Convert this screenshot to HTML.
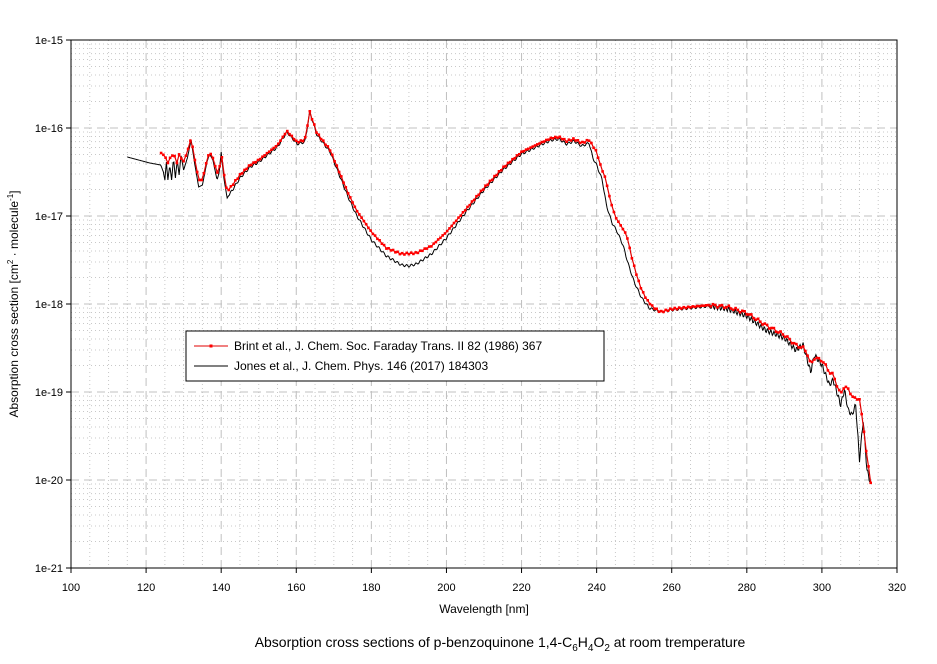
<!DOCTYPE html>
<html><head><meta charset="utf-8"><style>
body{margin:0;background:#fff;width:937px;height:659px;overflow:hidden}
svg{font-family:"Liberation Sans",sans-serif}
</style></head><body>
<svg id="s" width="937" height="659" xmlns="http://www.w3.org/2000/svg"></svg>
<script>
const s=document.getElementById('s');
const X=w=>71+(w-100)*826/220;
let h='';
for(let w=105;w<320;w+=5){if(w%20)h+=`<line x1="${X(w)}" y1="40" x2="${X(w)}" y2="568" stroke="#c8c8c8" stroke-dasharray="1,3"/>`;}
for(let d=0;d<6;d++)for(let k=2;k<10;k++){let y=40+88*(d+1)-88*Math.log10(k);h+=`<line x1="71" y1="${y}" x2="897" y2="${y}" stroke="#c8c8c8" stroke-dasharray="1,3"/>`;}
for(let w=120;w<320;w+=20)h+=`<line x1="${X(w)}" y1="40" x2="${X(w)}" y2="568" stroke="#c0c0c0" stroke-dasharray="8,5"/>`;
for(let d=1;d<6;d++)h+=`<line x1="71" y1="${40+88*d}" x2="897" y2="${40+88*d}" stroke="#c0c0c0" stroke-dasharray="8,5"/>`;
h+=`<rect x="71" y="40" width="826" height="528" fill="none" stroke="#000"/>`;
for(let d=0;d<=6;d++){let y=40+88*d;h+=`<line x1="66" y1="${y}" x2="71" y2="${y}" stroke="#000"/><text x="63" y="${y+4}" font-size="11" text-anchor="end">1e-${15+d}</text>`;}
for(let w=100;w<=320;w+=20){h+=`<line x1="${X(w)}" y1="568" x2="${X(w)}" y2="573" stroke="#000"/><text x="${X(w)}" y="591" font-size="11" text-anchor="middle">${w}</text>`;}
const R=[[124,153],[125,156],[125.8,163],[126.6,156],[127.5,155],[128.2,163],[128.9,153],[129.8,163],[130.9,153],[132,138],[133,160],[134,180],[135,180],[136.2,160],[136.9,152],[137.8,158],[138.9,173],[139.5,170],[140,151],[140.7,173],[141.6,192],[143,185],[145,175],[147.7,165],[150,160],[155,145],[157.5,131],[160.2,142],[162.3,140],[163.6,112],[165.5,133],[169,150],[173.8,193],[176,210],[180,232],[184,248],[188,254],[192,253],[196,246],[200,232],[205,210],[210,188],[215,168],[220,152],[225,143],[228,138],[230,137],[232,141],[234,139],[236,143],[238,140],[240,152],[241,165],[242.5,180],[243.6,200],[245,217],[246.5,226],[248,235],[249.4,258],[250.8,277],[252,290],[253.4,300],[255,307],[257,312],[260,309],[270,305],[275,307],[280,313],[285,325],[290,335],[293,345],[295,348],[296,352],[297,365],[298,358],[300,360],[302,372],[303,375],[305,395],[306,385],[307,390],[309,400],[310,398],[313,484]];
const B=[[115,157],[118,160],[121,163],[123.9,165],[124.6,172],[125,180],[125.4,162],[125.8,180],[126.3,165],[126.8,180],[127.3,158],[127.8,178],[128.3,160],[128.8,175],[129.3,155],[130,170],[131,158],[132,140],[133,165],[134,187],[135,185],[136.2,162],[136.9,154],[137.8,160],[138.9,180],[139.5,172],[140,152],[140.7,178],[141.6,198],[143,190],[145,178],[147.7,167],[150,162],[155,147],[157.5,132],[160.2,144],[162.3,142],[163.6,112],[165.5,135],[169,152],[173.8,197],[176,215],[180,240],[184,256],[188,265],[190,266],[192,264],[196,254],[200,238],[205,213],[210,190],[215,170],[220,154],[225,145],[228,140],[230,139],[232,144],[234,141],[236,146],[238,143],[239,158],[240,165],[241.5,180],[242.6,205],[244,222],[245.5,232],[247,245],[248.5,265],[250,282],[252,298],[254,308],[257,312],[260,310],[270,306],[275,309],[280,316],[285,330],[290,338],[293,350],[295,345],[297,372],[298,355],[300,365],[302,385],[303,380],[305,405],[306,390],[307,410],[308,415],[309,405],[310,460],[311,420],[312,470],[313,484]];
function interp(a,w){for(let i=1;i<a.length;i++)if(w<=a[i][0]){let t=(w-a[i-1][0])/(a[i][0]-a[i-1][0]);return a[i-1][1]+t*(a[i][1]-a[i-1][1]);}return a[a.length-1][1];}
function pts(a,step,n){let p=[];for(let w=a[0][0];w<=a[a.length-1][0]+1e-6;w+=step){let y=interp(a,w);if(w>270)y+=n*Math.sin(w*7.3)*2.5;else if(w>142)y+=n*Math.sin(w*5.1)*1.2;p.push([X(w).toFixed(1),y.toFixed(1)]);}return p;}
let bp=pts(B,0.2,1);
h+=`<polyline points="${bp.map(p=>p.join(',')).join(' ')}" fill="none" stroke="#000" stroke-width="1"/>`;
let rp=pts(R,0.6,0.6);
h+=`<polyline points="${rp.map(p=>p.join(',')).join(' ')}" fill="none" stroke="#e00000" stroke-width="1.2"/>`;
rp.forEach(p=>h+=`<rect x="${p[0]-1.3}" y="${p[1]-1.3}" width="2.6" height="2.6" fill="#f00"/>`);
h+=`<rect x="186" y="331" width="418" height="50" fill="#fff" stroke="#000"/>`;
h+=`<line x1="194" y1="346" x2="228" y2="346" stroke="#e00000"/><rect x="209.5" y="344.5" width="3" height="3" fill="#f00"/>`;
h+=`<text x="234" y="350" font-size="12">Brint et al., J. Chem. Soc. Faraday Trans. II 82 (1986) 367</text>`;
h+=`<line x1="194" y1="366" x2="228" y2="366" stroke="#000"/>`;
h+=`<text x="234" y="370" font-size="12">Jones et al., J. Chem. Phys. 146 (2017) 184303</text>`;
h+=`<text x="484" y="613" font-size="12" text-anchor="middle">Wavelength [nm]</text>`;
h+=`<text transform="translate(18,304) rotate(-90)" font-size="12" text-anchor="middle">Absorption cross section [cm<tspan font-size="8" dy="-5">2</tspan><tspan dy="5"> · molecule</tspan><tspan font-size="8" dy="-5">-1</tspan><tspan dy="5">]</tspan></text>`;
h+=`<text x="500" y="647" font-size="14" text-anchor="middle">Absorption cross sections of p-benzoquinone 1,4-C<tspan font-size="10" dy="4">6</tspan><tspan dy="-4">H</tspan><tspan font-size="10" dy="4">4</tspan><tspan dy="-4">O</tspan><tspan font-size="10" dy="4">2</tspan><tspan dy="-4"> at room tremperature</tspan></text>`;
s.innerHTML=h;
</script>
</body></html>
